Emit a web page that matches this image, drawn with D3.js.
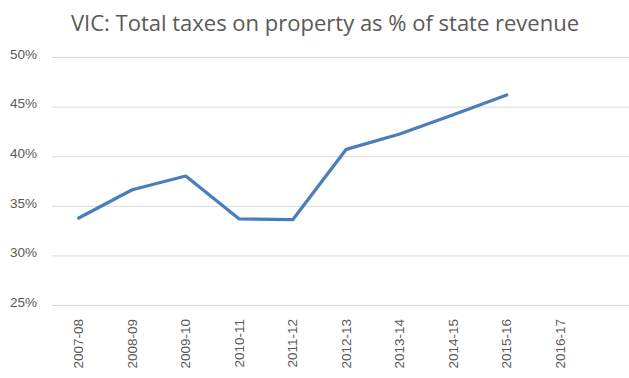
<!DOCTYPE html>
<html>
<head>
<meta charset="utf-8">
<script src="https://cdn.jsdelivr.net/npm/d3@7"></script>
<style>
  body { margin: 0; background: #fff; }
  .tick text { fill: #595959; font-family: "Liberation Sans", Arial, sans-serif; font-size: 13.5px; }
</style>
</head>
<body>
<div id="chart"></div>
<script>
var years = ["2007-08", "2008-09", "2009-10", "2010-11", "2011-12", "2012-13", "2013-14", "2014-15", "2015-16", "2016-17"];
var propertyShare = [33.77, 36.62, 38.0, 33.67, 33.6, 40.69, 42.24, 44.18, 46.17, null];
var yTicks = [25, 30, 35, 40, 45, 50];

var svgWidth = 629;
var svgHeight = 378;

var margin = { top: 57, right: 42, bottom: 73, left: 52 };
var width = svgWidth - margin.left - margin.right;
var height = svgHeight - margin.top - margin.bottom;

var svg = d3.select("#chart")
  .append("svg")
  .attr("width", svgWidth)
  .attr("height", svgHeight);

var chartGroup = svg.append("g")
  .attr("transform", `translate(${margin.left}, ${margin.top})`);

var xScale = d3.scaleBand()
  .domain(years)
  .range([0, width]);

var yScale = d3.scaleLinear()
  .domain([25, 50])
  .range([height, 0]);

// gridlines run to the right edge of the picture
var leftAxis = d3.axisLeft(yScale)
  .tickValues(yTicks)
  .tickFormat(d => d + "%")
  .tickSize(-(svgWidth - margin.left))
  .tickPadding(15);

var yAxisG = chartGroup.append("g").call(leftAxis);
yAxisG.select(".domain").remove();
yAxisG.selectAll(".tick line").attr("stroke", "#d9d9d9");
yAxisG.selectAll(".tick text").attr("dy", "0.1em");

var bottomAxis = d3.axisBottom(xScale).tickSize(0).tickPadding(8);
var xAxisG = chartGroup.append("g")
  .attr("transform", `translate(0, ${height})`)
  .call(bottomAxis);
xAxisG.select(".domain").remove();
xAxisG.selectAll(".tick text")
  .attr("transform", "rotate(-90)")
  .attr("text-anchor", "end")
  .attr("x", -14)
  .attr("y", 0)
  .attr("dy", "0.35em");

var line = d3.line()
  .defined(d => d != null)
  .x((d, i) => xScale(years[i]) + xScale.bandwidth() / 2)
  .y(d => yScale(d));

chartGroup.append("path")
  .datum(propertyShare)
  .attr("fill", "none")
  .attr("stroke", "#4a7ebb")
  .attr("stroke-width", 3.25)
  .attr("stroke-linejoin", "round")
  .attr("stroke-linecap", "round")
  .attr("d", line);

svg.append("text")
  .attr("x", 325)
  .attr("y", 31)
  .attr("text-anchor", "middle")
  .attr("fill", "#595959")
  .style("font-family", "'Open Sans', sans-serif")
  .style("font-size", "22px")
  .text("VIC: Total taxes on property as % of state revenue");
</script>
</body>
</html>
